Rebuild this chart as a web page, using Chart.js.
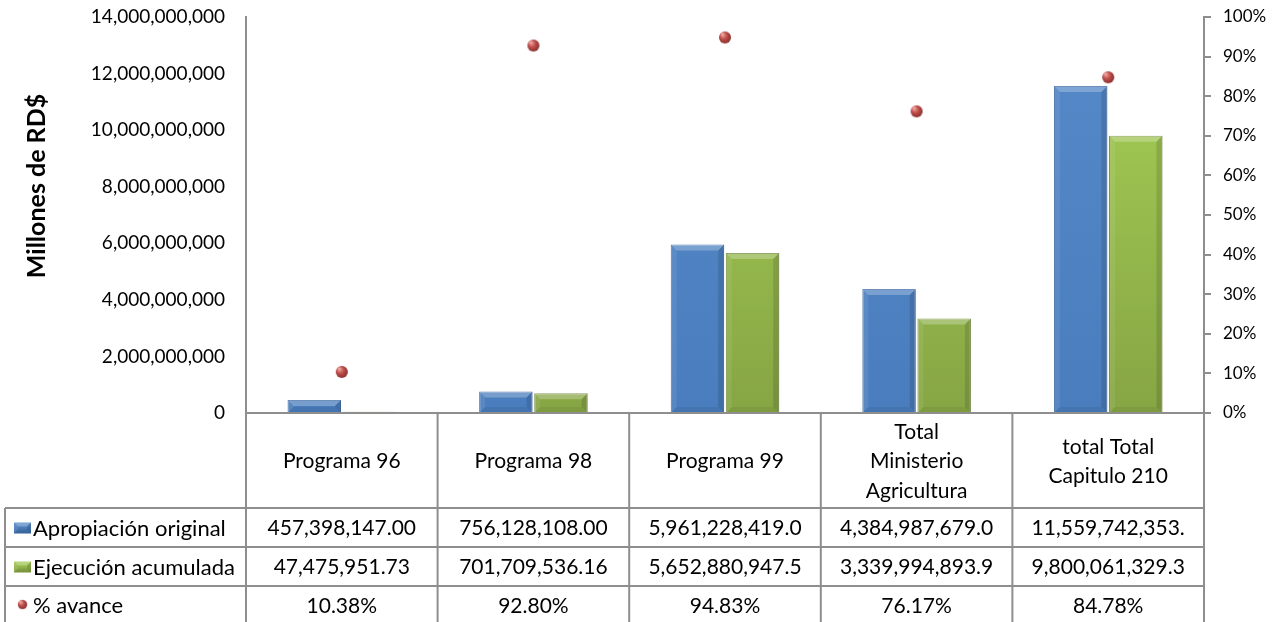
<!DOCTYPE html>
<html>
<head>
<meta charset="utf-8">
<script src="https://cdn.jsdelivr.net/npm/chart.js@4"></script>
<style>
  html, body { margin: 0; padding: 0; background: #fff; }
  #wrap { width: 1285px; height: 622px; position: relative; }
</style>
</head>
<body>
<div id="wrap"><canvas id="chart"></canvas></div>
<script>
// data
const categories = [['Programa 96'], ['Programa 98'], ['Programa 99'], ['Total', 'Ministerio', 'Agricultura'], ['total Total', 'Capitulo 210']];
const apropiacion = [457398147.00, 756128108.00, 5961228419.0, 4384987679.0, 11559742353];
const ejecucion = [47475951.73, 701709536.16, 5652880947.5, 3339994893.9, 9800061329.3];
const avance = [10.38, 92.80, 94.83, 76.17, 84.78];
const apropiacionText = ['457,398,147.00', '756,128,108.00', '5,961,228,419.0', '4,384,987,679.0', '11,559,742,353.'];
const ejecucionText = ['47,475,951.73', '701,709,536.16', '5,652,880,947.5', '3,339,994,893.9', '9,800,061,329.3'];
const avanceText = ['10.38%', '92.80%', '94.83%', '76.17%', '84.78%'];
const seriesNames = ['Apropiación original', 'Ejecución acumulada', '% avance'];
const leftMax = 14000000000, leftStep = 2000000000;
const rightMax = 1, rightStep = 0.1;

const FONT = 'Lato, "Open Sans", sans-serif';
const LINE = '#8e8e8e';

// little red sphere used for the % markers
function makeSphere(r) {
    const c = document.createElement('canvas');
    c.width = c.height = r * 2 + 2;
    const g = c.getContext('2d');
    const grad = g.createRadialGradient(r * 0.7, r * 0.6, 0.5, r + 1, r + 1, r + 1);
    grad.addColorStop(0, '#f3aaa4');
    grad.addColorStop(0.45, '#c0504d');
    grad.addColorStop(1, '#7d2623');
    g.fillStyle = grad;
    g.beginPath();
    g.arc(r + 1, r + 1, r, 0, Math.PI * 2);
    g.fill();
    return c;
}
const sphere = makeSphere(6);

function vGrad(ctx, area, top, bottom) {
    if (!area) return top;
    const g = ctx.createLinearGradient(0, area.top, 0, area.bottom);
    g.addColorStop(0, top);
    g.addColorStop(1, bottom);
    return g;
}

function bevel(ctx, x0, y0, x1, y1, b) {
    b = Math.min(b, (y1 - y0) / 2, (x1 - x0) / 2);
    if (b <= 0.5) return;
    ctx.save();
    ctx.fillStyle = 'rgba(255,255,255,0.25)';
    ctx.beginPath();
    ctx.moveTo(x0, y0); ctx.lineTo(x1, y0); ctx.lineTo(x1 - b, y0 + b); ctx.lineTo(x0 + b, y0 + b);
    ctx.fill();
    ctx.fillStyle = 'rgba(255,255,255,0.08)';
    ctx.beginPath();
    ctx.moveTo(x0, y0); ctx.lineTo(x0 + b, y0 + b); ctx.lineTo(x0 + b, y1 - b); ctx.lineTo(x0, y1);
    ctx.fill();
    ctx.fillStyle = 'rgba(0,0,0,0.12)';
    ctx.beginPath();
    ctx.moveTo(x1, y0); ctx.lineTo(x1, y1); ctx.lineTo(x1 - b, y1 - b); ctx.lineTo(x1 - b, y0 + b);
    ctx.fill();
    ctx.fillStyle = 'rgba(0,0,0,0.06)';
    ctx.beginPath();
    ctx.moveTo(x0, y1); ctx.lineTo(x1, y1); ctx.lineTo(x1 - b, y1 - b); ctx.lineTo(x0 + b, y1 - b);
    ctx.fill();
    ctx.restore();
}

const bevelPlugin = {
    id: 'bevel',
    afterDatasetDraw(chart, args) {
        const meta = args.meta;
        if (meta.type !== 'bar') return;
        const ctx = chart.ctx;
        meta.data.forEach(el => {
            const w = el.width;
            bevel(ctx, el.x - w / 2, el.y, el.x + w / 2, el.base, 6);
        });
    }
};

const tablePlugin = {
    id: 'dataTable',
    afterDraw(chart) {
        const ctx = chart.ctx;
        const area = chart.chartArea;
        const x = chart.scales.x;
        const n = categories.length;
        const colW = (area.right - area.left) / n;
        const bounds = [];
        for (let i = 0; i <= n; i++) bounds.push(area.left + i * colW);
        const rowTop = area.bottom;
        const rows = [508, 547, 586, 625];
        const tableLeft = 5;

        ctx.save();
        ctx.strokeStyle = LINE;
        ctx.lineWidth = 2;
        // category axis line + right tick
        ctx.beginPath();
        ctx.moveTo(area.left, area.bottom); ctx.lineTo(area.right + 7, area.bottom);
        ctx.stroke();
        // vertical separators and row lines
        ctx.beginPath();
        bounds.forEach(b => { ctx.moveTo(b, rowTop); ctx.lineTo(b, 622); });
        ctx.moveTo(tableLeft, rows[0]); ctx.lineTo(tableLeft, 622);
        rows.slice(0, 3).forEach(r => { ctx.moveTo(tableLeft, r); ctx.lineTo(area.right, r); });
        ctx.stroke();

        ctx.fillStyle = '#000';
        ctx.font = '21px ' + FONT;
        ctx.textAlign = 'center';
        ctx.textBaseline = 'middle';
        // header
        categories.forEach((lines, i) => {
            const cx = x.getPixelForValue(i);
            const mid = (rowTop + rows[0]) / 2 + 1;
            const lh = 29.5;
            lines.forEach((t, k) => {
                ctx.fillText(t, cx, mid + (k - (lines.length - 1) / 2) * lh);
            });
        });
        const cols = [apropiacionText, ejecucionText, avanceText];
        cols.forEach((vals, r) => {
            const cy = (rows[r] + rows[r + 1]) / 2 + 1;
            vals.forEach((t, i) => ctx.fillText(t, x.getPixelForValue(i), cy));
        });
        // legend keys
        ctx.textAlign = 'left';
        ctx.font = '22px ' + FONT;
        const keyCols = [['#5a8cca', '#3a6aa5'], ['#a5cd55', '#7e9c3e']];
        keyCols.forEach((c, r) => {
            const cy = (rows[r] + rows[r + 1]) / 2;
            const g = ctx.createLinearGradient(0, cy - 5, 0, cy + 6);
            g.addColorStop(0, c[0]); g.addColorStop(1, c[1]);
            ctx.fillStyle = g;
            ctx.fillRect(14, cy - 5, 17, 11);
            bevel(ctx, 14, cy - 5, 31, cy + 6, 4);
            ctx.fillStyle = '#000';
            ctx.fillText(seriesNames[r], 33, cy + 1);
        });
        const cy3 = (rows[2] + rows[3]) / 2 - 1;
        ctx.drawImage(sphere, 17, cy3 - 5.5, 11, 11);
        ctx.fillText(seriesNames[2], 33, cy3 + 1);

        // axis title
        ctx.translate(37, 186);
        ctx.rotate(-Math.PI / 2);
        ctx.textAlign = 'center';
        ctx.font = 'bold 25px ' + FONT;
        ctx.fillText('Millones de RD$', 0, 0);
        ctx.restore();
    }
};

// keep the plot top at the layout padding instead of half a tick label lower
function fixPad(s, width) {
    s.width = width;
    s.paddingTop = 0;
    s.paddingBottom = 0;
}

new Chart(document.getElementById('chart'), {
    type: 'bar',
    data: {
        labels: categories.map(c => c.join(' ')),
        datasets: [{
            label: seriesNames[0],
            data: apropiacion,
            yAxisID: 'y',
            order: 1,
            backgroundColor: ctx => vGrad(ctx.chart.ctx, ctx.chart.chartArea, '#5689c8', '#4a7dbd'),
            borderColor: '#3d6aa3',
            borderWidth: 1,
            categoryPercentage: 0.575,
            barPercentage: 0.97
        }, {
            label: seriesNames[1],
            data: ejecucion,
            yAxisID: 'y',
            order: 1,
            backgroundColor: ctx => vGrad(ctx.chart.ctx, ctx.chart.chartArea, '#a8d156', '#86a544'),
            borderColor: '#71893a',
            borderWidth: 1,
            categoryPercentage: 0.575,
            barPercentage: 0.97
        }, {
            type: 'line',
            label: seriesNames[2],
            data: avance.map(v => v / 100),
            yAxisID: 'y1',
            order: 0,
            showLine: false,
            pointStyle: sphere,
            pointRadius: 7,
            pointHoverRadius: 7
        }]
    },
    options: {
        responsive: true,
        maintainAspectRatio: false,
        animation: false,
        layout: { padding: { top: 17, bottom: 209, left: 0, right: 0 } },
        plugins: {
            legend: { display: false },
            tooltip: { enabled: false }
        },
        scales: {
            x: { display: false },
            y: {
                position: 'left',
                min: 0,
                max: leftMax,
                afterFit: s => fixPad(s, 246),
                ticks: {
                    stepSize: leftStep,
                    padding: 13,
                    color: '#000',
                    font: { family: FONT, size: 19 },
                    callback: v => v.toLocaleString('en-US')
                },
                grid: { display: false },
                border: { display: true, color: LINE, width: 2 }
            },
            y1: {
                position: 'right',
                min: 0,
                max: rightMax,
                afterFit: s => fixPad(s, 81),
                ticks: {
                    stepSize: rightStep,
                    padding: 12,
                    color: '#000',
                    font: { family: FONT, size: 17 },
                    callback: v => Math.round(v * 100) + '%'
                },
                grid: { drawOnChartArea: false, drawTicks: true, tickLength: 7, color: LINE, lineWidth: 2 },
                border: { display: true, color: LINE, width: 2 }
            }
        }
    },
    plugins: [bevelPlugin, tablePlugin]
});
</script>
</body>
</html>
